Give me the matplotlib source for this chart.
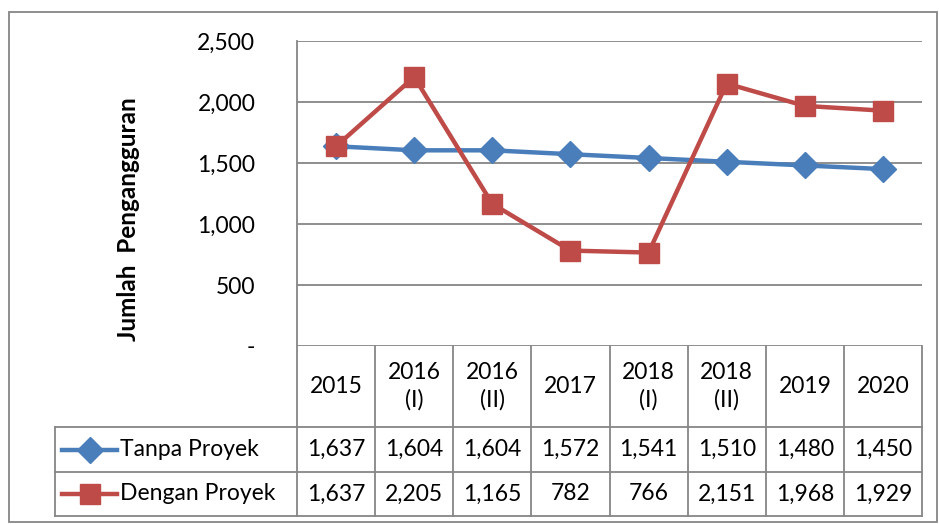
import matplotlib
matplotlib.use("Agg")
import matplotlib.pyplot as plt
from matplotlib.lines import Line2D
from matplotlib.patches import Rectangle

categories = ["2015", "2016\n(I)", "2016\n(II)", "2017", "2018\n(I)", "2018\n(II)", "2019", "2020"]
tanpa = [1637, 1604, 1604, 1572, 1541, 1510, 1480, 1450]
dengan = [1637, 2205, 1165, 782, 766, 2151, 1968, 1929]
series_names = ["Tanpa Proyek", "Dengan Proyek"]
yticks = [0, 500, 1000, 1500, 2000, 2500]
ytick_labels = ["-", "500", "1,000", "1,500", "2,000", "2,500"]
ylabel = "Jumlah  Pengangguran"

W, H = 939, 524
BLUE = "#4A7EBB"
RED = "#BE4B48"
GRID = "#868686"
FONT = "Lato"
FS = 16.5

plt.rcParams["font.family"] = [FONT, "DejaVu Sans"]

fig = plt.figure(figsize=(W / 100, H / 100), dpi=100)

def fx(x):
    return x / W

def fy(y):
    return 1 - y / H

# geometry in pixels
PL, PR, PT, PB = 297, 922, 41, 346
ROW1, ROW2, ROW3 = 427, 472, 516
LEGL = 55

ax = fig.add_axes([fx(PL), fy(PB), fx(PR) - fx(PL), fy(PT) - fy(PB)])
n = len(categories)
xs = list(range(n))
ax.set_xlim(-0.5, n - 0.5)
ax.set_ylim(0, 2500)
for s in ax.spines.values():
    s.set_visible(False)
ax.set_xticks([])
ax.set_yticks(yticks)
ax.set_yticklabels(ytick_labels, fontsize=FS)
ax.tick_params(axis="y", length=0, pad=30)
ax.yaxis.grid(True, color=GRID, linewidth=1.3)
ax.set_axisbelow(True)

ax.plot(xs, tanpa, color=BLUE, linewidth=3.2, marker="D", markersize=13,
        markerfacecolor=BLUE, markeredgecolor=BLUE, zorder=3, clip_on=False)
ax.plot(xs, dengan, color=RED, linewidth=3.2, marker="s", markersize=14.5,
        markerfacecolor=RED, markeredgecolor=RED, zorder=4, clip_on=False)

fig.text(fx(128), fy(219), ylabel, rotation=90, ha="center", va="center",
         fontsize=17.5, fontweight="bold")

# table lines
def hline(x0, x1, y):
    fig.add_artist(Line2D([fx(x0), fx(x1)], [fy(y), fy(y)], color=GRID, linewidth=1.3))

def vline(x, y0, y1):
    fig.add_artist(Line2D([fx(x), fx(x)], [fy(y0), fy(y1)], color=GRID, linewidth=1.3))

colw = (PR - PL) / n
vline(PL, PT, ROW3)
vline(LEGL, ROW1, ROW3)
for i in range(1, n + 1):
    vline(PL + i * colw, PB, ROW3)
for y in (ROW1, ROW2, ROW3):
    hline(LEGL, PR, y)

# header text
for i, c in enumerate(categories):
    cx = PL + (i + 0.5) * colw
    fig.text(fx(cx), fy((PB + ROW1) / 2), c, ha="center", va="center",
             fontsize=FS, linespacing=1.35)

# values
for vals, (y0, y1) in ((tanpa, (ROW1, ROW2)), (dengan, (ROW2, ROW3))):
    for i, v in enumerate(vals):
        cx = PL + (i + 0.5) * colw
        fig.text(fx(cx), fy((y0 + y1) / 2), f"{v:,}", ha="center", va="center", fontsize=FS)

# legend keys
for name, col, mk, ms, (y0, y1) in ((series_names[0], BLUE, "D", 13, (ROW1, ROW2)),
                                    (series_names[1], RED, "s", 14.5, (ROW2, ROW3))):
    yc = (y0 + y1) / 2
    fig.add_artist(Line2D([fx(62), fx(117)], [fy(yc), fy(yc)], color=col, linewidth=3.2))
    fig.add_artist(Line2D([fx(89.5)], [fy(yc)], color=col, marker=mk, markersize=ms,
                          markerfacecolor=col, markeredgecolor=col, linestyle="none"))
    fig.text(fx(120), fy(yc), name, ha="left", va="center", fontsize=FS)

# outer border
fig.add_artist(Rectangle((fx(9), fy(522)), fx(937) - fx(9), fy(12) - fy(522),
                         fill=False, edgecolor=GRID, linewidth=1.3))

fig.savefig("out.png", dpi=100)
